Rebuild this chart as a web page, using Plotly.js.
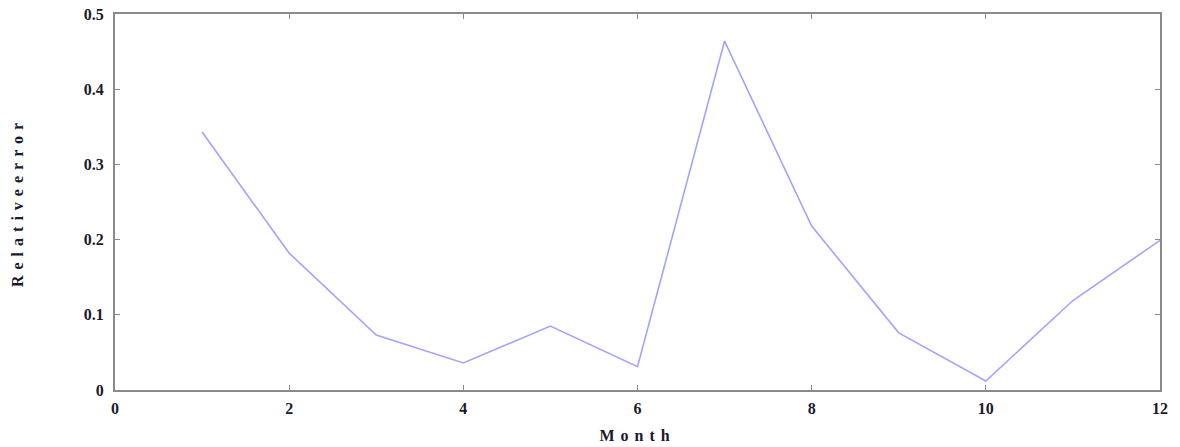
<!DOCTYPE html>
<html>
<head>
<meta charset="utf-8">
<script src="https://cdn.plot.ly/plotly-3.0.1.min.js"></script>
<style>
html,body{margin:0;padding:0;background:#fff;}
#chart{width:1180px;height:447px;}
.xtitle,.ytitle{letter-spacing:6px;}
</style>
</head>
<body>
<div id="chart"></div>
<script>
const months = [1, 2, 3, 4, 5, 6, 7, 8, 9, 10, 11, 12];
const relativeError = [0.343, 0.182, 0.073, 0.036, 0.085, 0.031, 0.464, 0.218, 0.076, 0.012, 0.119, 0.199];
const xTicks = [0, 2, 4, 6, 8, 10, 12];
const yTicks = [0, 0.1, 0.2, 0.3, 0.4, 0.5];
const yTickText = ['0', '0.1', '0.2', '0.3', '0.4', '0.5'];

const fontFam = '"Liberation Serif", "Times New Roman", serif';
const trace = {
  x: months, y: relativeError, type: 'scatter', mode: 'lines',
  line: {color: '#a3a3ff', width: 1.6}, hoverinfo: 'skip'
};
const axisCommon = {
  showgrid: false, zeroline: false, showline: true, mirror: 'ticks',
  linecolor: '#8a8a8a', linewidth: 2, ticks: 'inside', ticklen: 5,
  tickcolor: '#8a8a8a', tickwidth: 1,
  tickfont: {family: fontFam, size: 16, color: '#1a1a2e', weight: 'bold'}
};
const layout = {
  width: 1180, height: 447,
  margin: {l: 115, r: 20, t: 14, b: 57},
  paper_bgcolor: '#fff', plot_bgcolor: '#fff',
  showlegend: false,
  xaxis: Object.assign({}, axisCommon, {
    range: [0, 12], tickvals: xTicks, ticktext: xTicks.map(String),
    ticklabelstandoff: 3,
    title: {text: 'Month', font: {family: fontFam, size: 16, color: '#1a1a2e', weight: 'bold'}, standoff: 14}
  }),
  yaxis: Object.assign({}, axisCommon, {
    range: [0, 0.5], tickvals: yTicks, ticktext: yTickText,
    ticklabelstandoff: 6,
    title: {text: 'Relativeerror', font: {family: fontFam, size: 16, color: '#1a1a2e', weight: 'bold'}, standoff: 56}
  })
};
Plotly.newPlot('chart', [trace], layout, {staticPlot: true, displayModeBar: false});
</script>
</body>
</html>
